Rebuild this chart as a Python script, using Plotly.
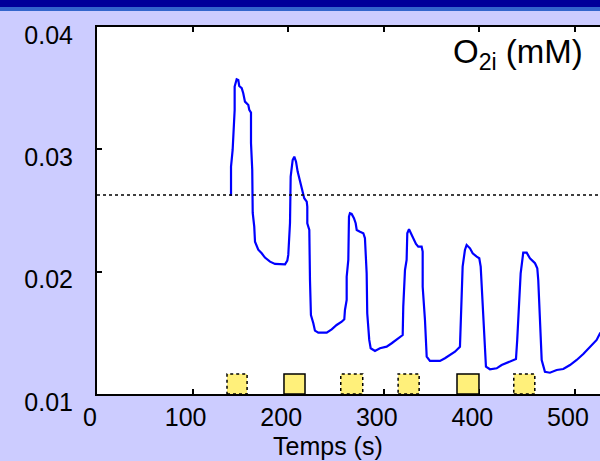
import plotly.graph_objects as go

# O2i trace (time in s, concentration in mM)
time_s = [140.2, 140.2, 141.9, 142.6, 144.0, 144.0, 146.1, 147.8, 148.8, 151.4, 153.0, 154.8, 158.3, 159.3, 161.1,
          161.1, 162.4, 162.9, 164.5, 165.3, 168.7, 172.3, 175.7, 181.0, 186.2, 196.7, 199.1, 200.1,
          200.8, 201.9, 202.6, 204.7, 206.4, 208.2, 209.9, 211.6, 213.4, 215.2, 216.8, 219.4, 220.0, 220.0, 222.1,
          222.8, 223.8, 226.3, 228.0, 231.5, 240.3, 245.5, 250.7, 256.0, 258.7,
          259.4, 261.2, 261.2, 262.9, 263.6, 264.6, 266.4, 268.8, 270.6, 271.7, 275.1, 278.6, 280.3,
          282.1, 282.7, 284.8, 286.3, 290.8, 296.0, 303.0, 308.3, 313.5, 316.9, 319.8,
          320.4, 322.2, 323.9, 324.6, 326.4, 329.2, 331.6, 333.7, 336.1, 339.6, 340.7,
          340.7, 343.1, 344.9, 348.3, 358.8, 364.0, 369.2, 374.5, 379.7,
          380.8, 382.5, 384.9, 386.7, 390.2, 393.0, 397.2, 399.9, 401.4,
          402.4, 404.8, 406.9, 411.1, 418.1, 423.3, 432.0, 438.3,
          439.6, 441.7, 443.2, 445.9, 449.5, 452.9, 458.2, 460.6, 461.6,
          463.4, 465.2, 468.6, 473.8, 480.9, 487.8, 494.8, 501.8, 508.7, 515.7, 522.7, 526.2, 530.0]
o2i_mM = [0.02619, 0.02859, 0.02995, 0.03159, 0.03322, 0.03513, 0.03573, 0.03567, 0.03518, 0.03500, 0.03459, 0.03390, 0.03363, 0.03322, 0.03300,
          0.03052, 0.02832, 0.02480, 0.02368, 0.02245, 0.02180, 0.02150, 0.02115, 0.02082, 0.02063, 0.02060, 0.02090, 0.02137,
          0.02259, 0.02398, 0.02777, 0.02913, 0.02940, 0.02899, 0.02818, 0.02764, 0.02695, 0.02641, 0.02600, 0.02572, 0.02531, 0.02396, 0.02341,
          0.01932, 0.01646, 0.01578, 0.01518, 0.01501, 0.01501, 0.01529, 0.01564, 0.01591, 0.01611,
          0.01687, 0.01769, 0.01959, 0.02096, 0.02450, 0.02478, 0.02472, 0.02437, 0.02396, 0.02341, 0.02327, 0.02314, 0.02273,
          0.01987, 0.01660, 0.01442, 0.01374, 0.01352, 0.01374, 0.01387, 0.01415, 0.01447, 0.01469, 0.01482,
          0.01714, 0.02014, 0.02096, 0.02314, 0.02347, 0.02300, 0.02259, 0.02226, 0.02204, 0.02204, 0.02164,
          0.01877, 0.01605, 0.01305, 0.01270, 0.01270, 0.01292, 0.01319, 0.01346, 0.01387,
          0.01714, 0.02041, 0.02177, 0.02218, 0.02191, 0.02150, 0.02123, 0.02110, 0.02041,
          0.01877, 0.01496, 0.01223, 0.01202, 0.01210, 0.01237, 0.01264, 0.01286,
          0.01442, 0.01714, 0.01987, 0.02155, 0.02155, 0.02110, 0.02069, 0.02028, 0.01932,
          0.01605, 0.01278, 0.01182, 0.01174, 0.01196, 0.01204, 0.01237, 0.01278, 0.01327, 0.01387, 0.01442, 0.01496, 0.01530]

# Stimulus periods (yellow squares)
stim_start = [136, 195.6, 255, 315, 376.6, 436]
stim_end = [157, 217.6, 278, 337, 399.6, 458]
stim_dash = ["dot", "solid", "dot", "dot", "solid", "dot"]
stim_height = 0.00164

# Reference level
ref_level = 0.02627

x_ticks = [0, 100, 200, 300, 400, 500]
y_ticks = [0.01, 0.02, 0.03, 0.04]
y_ticktext = ["0.01", "0.02", "0.03", "0.04"]

FONT = "Liberation Sans, Arial, sans-serif"

fig = go.Figure()
fig.add_trace(go.Scatter(x=time_s, y=o2i_mM, mode="lines",
                         line=dict(color="#0000ff", width=2.2), showlegend=False, hoverinfo="skip"))

shapes = []
shapes.append(dict(type="line", xref="paper", x0=0, x1=1, yref="y", y0=ref_level, y1=ref_level,
                   line=dict(color="black", width=1.5, dash="dot"), layer="above"))
y0 = y_ticks[0]
for s, e, d in zip(stim_start, stim_end, stim_dash):
    shapes.append(dict(type="rect", xref="x", yref="y", x0=s, x1=e, y0=y0, y1=y0 + stim_height,
                       fillcolor="#fff07a", line=dict(color="black", width=1.5, dash=d), layer="above"))
shapes.append(dict(type="rect", xref="paper", yref="paper", x0=-0.2, x1=1.01, y0=1.0436, y1=1.0545,
                   fillcolor="#3366cc", line=dict(width=0), layer="above"))
shapes.append(dict(type="rect", xref="paper", yref="paper", x0=-0.2, x1=1.01, y0=1.0545, y1=1.08,
                   fillcolor="#000099", line=dict(width=0), layer="above"))

fig.update_layout(
    width=600, height=461,
    margin=dict(l=97, r=0, t=27, b=67, pad=0),
    paper_bgcolor="#ccccff", plot_bgcolor="white",
    font=dict(family=FONT, color="black", size=25),
    shapes=shapes,
    annotations=[
        dict(text="O<sub>2i</sub> (mM)", xref="paper", yref="paper", x=0.97, y=0.927,
             xanchor="right", yanchor="middle", showarrow=False, font=dict(family=FONT, size=33, color="black")),
        dict(text="Temps (s)", xref="paper", yref="paper", x=0.459, y=-0.1417,
             xanchor="center", yanchor="middle", showarrow=False, font=dict(family=FONT, size=25, color="black")),
    ],
)
fig.update_xaxes(range=[0, 526.2], tickvals=x_ticks, ticks="inside", ticklen=5, tickwidth=1.5,
                 tickcolor="black", showline=True, linecolor="black", linewidth=2, mirror="ticks",
                 showgrid=False, zeroline=False, ticklabelshift=-7, ticklabelstandoff=0,
                 tickfont=dict(size=25))
fig.update_yaxes(range=[0.01, 0.04], tickvals=y_ticks, ticktext=y_ticktext, ticks="inside", ticklen=5,
                 tickwidth=1.5, tickcolor="black", showline=True, linecolor="black", linewidth=2,
                 showgrid=False, zeroline=False, ticklabelshift=8, ticklabelstandoff=17,
                 tickfont=dict(size=25))

fig.write_html("out.html")
